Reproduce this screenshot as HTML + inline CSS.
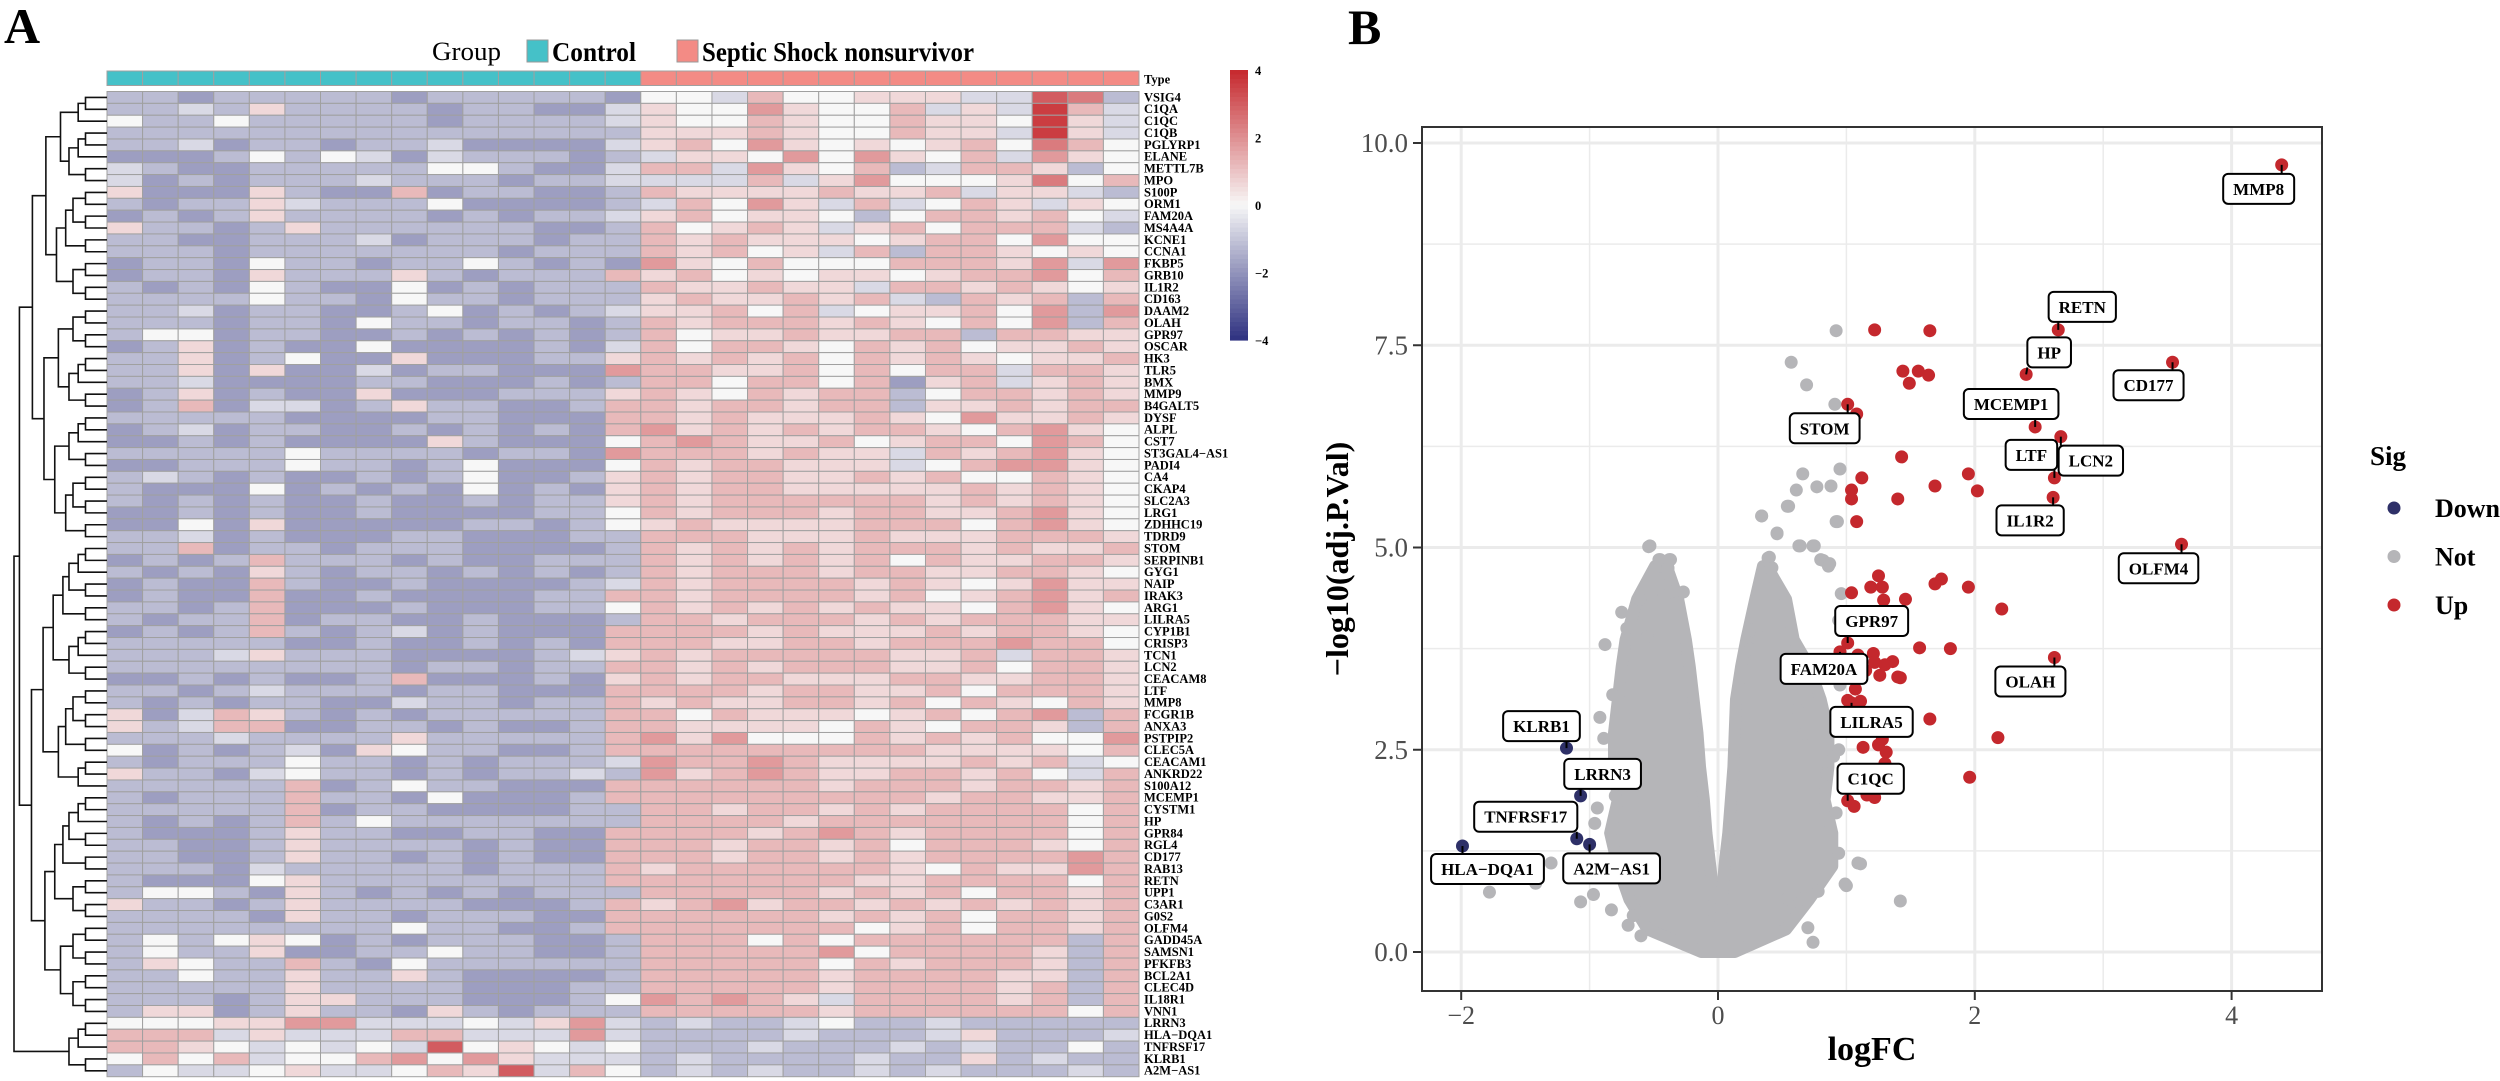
<!DOCTYPE html>
<html><head><meta charset="utf-8"><style>
html,body{margin:0;padding:0;background:#fff;}
svg{display:block;font-family:"Liberation Serif",serif;}
</style></head><body>
<svg id="fig" width="2500" height="1081" viewBox="0 0 2500 1081" xmlns="http://www.w3.org/2000/svg">
<text x="4" y="43" font-size="50" font-weight="bold">A</text>
<text x="1348" y="44" font-size="50" font-weight="bold">B</text>
<g id="heat"></g>
<g id="volc"></g>
</svg>
<script>
// ---------------- Heatmap data ----------------
const genes = ["VSIG4","C1QA","C1QC","C1QB","PGLYRP1","ELANE","METTL7B","MPO","S100P","ORM1","FAM20A","MS4A4A","KCNE1","CCNA1","FKBP5","GRB10","IL1R2","CD163","DAAM2","OLAH","GPR97","OSCAR","HK3","TLR5","BMX","MMP9","B4GALT5","DYSF","ALPL","CST7","ST3GAL4\u2212AS1","PADI4","CA4","CKAP4","SLC2A3","LRG1","ZDHHC19","TDRD9","STOM","SERPINB1","GYG1","NAIP","IRAK3","ARG1","LILRA5","CYP1B1","CRISP3","TCN1","LCN2","CEACAM8","LTF","MMP8","FCGR1B","ANXA3","PSTPIP2","CLEC5A","CEACAM1","ANKRD22","S100A12","MCEMP1","CYSTM1","HP","GPR84","RGL4","CD177","RAB13","RETN","UPP1","C3AR1","G0S2","OLFM4","GADD45A","SAMSN1","PFKFB3","BCL2A1","CLEC4D","IL18R1","VNN1","LRRN3","HLA\u2212DQA1","TNFRSF17","KLRB1","A2M\u2212AS1"];
const groups = ["Control","Control","Control","Control","Control","Control","Control","Control","Control","Control","Control","Control","Control","Control","Control","Septic","Septic","Septic","Septic","Septic","Septic","Septic","Septic","Septic","Septic","Septic","Septic","Septic","Septic"];
const levelChars = "0123456789AB";
const colorbarTicks = [4,2,0,-2,-4];
const controlRows = ["332333332333332","334363333233224","533533333233334","333333333333333","334233233422224","222353542433323","432233333553224","423233343332334","622263227233223","323364333522223","232363333232334","633236333333223","332233342333233","333233333332333","233253323353232","233263336323337","323253225232333","333353325332333","334233223523234","333233253323323","355233223232323","236232252222324","336235226222336","336262242332228","334222233222323","236232262223336","237244236332237","333332222332227","234233223232327","223232222632225","333335333323328","223335332352225","343232232352236","322252323252326","323232232232336","223232232222335","225262222233235","334232223322233","337233233322223","232373332322333","323263233232323","232273223222234","232272232222337","332372223222335","323372332232223","232373234232227","333332232232327","333463332222346","333333332332337","223232237222326","332343332332227","323233224332337","624763232333337","634772233232237","333433336333337","523234265332237","323335332323334","633245332323343","333337235332227","323337332522237","333337233222233","323237353333333","322236332233227","332236333323227","332236332323227","333243333323337","322256333333337","355326323232333","633236333322237","333326332333227","333333335332237","353565232333223","353362233533223","365337325333333","335336336322223","333336333322233","333236633322235","366236332632333","555668844454684","777464447744484","776545454A56545","575745578586444","35445644576A475"];
const septicRows = ["55475566644A93","65586557464B74","65576557665B64","66676557664B64","67586565675975","46658586574865","77486573477635","44474685556957","76666766746643","47586474576465","67566535776754","75676467577743","76766656775855","76756473776565","86575557776848","67565665677857","76676647767656","67667674376737","66757456675838","76777676575837","75667667737766","75776576756676","76767576765667","77667575774776","77577572674676","76576773577676","76776773667677","76766676586676","86767677657865","78766756775875","77767664767865","76776664578865","76776676755765","76776666676765","76777777676765","76777677667865","67666677757865","77766676667776","76767677767667","76767675766776","76777677667765","76777767656866","76777767567867","76767676657865","77677767677766","77767666767765","77667767778775","76777776674776","76767776675776","76776667766776","77767766757776","67667767576576","75766656757837","76666576577637","86855576767558","77777777666657","87787666676745","86787667767547","77777677767767","77777777677667","77677676777757","77776777777757","77767876777757","77677675777657","77677676777787","67777776576687","77777766777757","77777676757767","67867767676767","77777676757767","77777756757767","77757577777737","77777857777637","77777576777637","77777677776637","77777677776737","87876477776737","77777677777757","34334533433333","33334333463334","33343334343353","34333343363433","34343343433343"];

// ---------------- Volcano data ----------------
const upFC = [4.39,2.65,2.40,3.54,2.47,2.67,2.62,2.61,1.01,3.61,1.01,0.95,2.62,1.04,1.01,1.08,1.22,1.65,1.44,1.56,1.64,1.49,1.43,1.12,1.04,1.04,1.40,1.69,1.95,2.02,1.08,1.25,1.19,1.28,1.04,1.74,1.69,1.95,1.46,1.29,2.21,1.57,1.81,1.09,1.21,1.22,1.36,1.15,1.26,1.42,1.07,1.01,1.11,1.65,1.47,2.18,1.13,1.25,1.31,1.30,1.28,1.96,1.16,1.22,1.06,1.10,1.14,1.30,1.40,1.02];
const upV  = [9.73,7.69,7.14,7.29,6.49,6.37,5.86,5.62,6.77,5.04,3.82,3.71,3.64,3.08,1.87,6.65,7.69,7.68,7.18,7.18,7.13,7.03,6.12,5.86,5.71,5.60,5.60,5.76,5.91,5.70,5.32,4.65,4.51,4.51,4.44,4.61,4.55,4.51,4.36,4.35,4.24,3.76,3.75,3.67,3.69,3.58,3.59,3.48,3.42,3.39,3.25,3.11,3.10,2.88,2.74,2.65,2.53,2.56,2.47,2.33,2.63,2.16,1.94,1.91,1.80,2.05,2.75,3.55,3.40,2.98];
const downFC = [-1.18,-1.07,-1.10,-1.00,-1.99];
const downV  = [2.52,1.93,1.40,1.33,1.31];
const notFC = [0.92,0.57,0.69,0.91,0.66,0.95,0.61,0.77,0.88,0.55,0.34,0.46,0.93,-0.53,0.64,0.75,-0.45,-0.37,-0.39,0.40,0.42,0.82,0.86,-0.54,-0.46,-0.38,-0.39,0.34,0.54,0.92,0.46,0.63,0.74,0.39,0.41,0.80,0.87,-0.37,-0.27,-0.61,-0.52,-0.88,-0.82,-0.89,-0.96,-0.94,-1.07,-0.97,-1.30,-1.40,-1.42,-1.78,-0.80,-0.70,-0.83,0.94,0.96,1.09,0.99,1.42,0.94,0.78,0.86,0.92,0.90,0.94,0.66,0.54,0.26,0.31,0.25,1.11,1.00,-0.60,-0.66,-0.86,-0.92,0.70,0.74,0.83,0.62,-0.75,-0.71,0.95,0.85,-0.55,0.67];
const notV  = [7.68,7.29,7.01,6.77,5.91,5.97,5.71,5.75,5.76,5.51,5.39,5.18,5.32,5.02,5.02,5.02,4.85,4.85,4.75,4.88,4.75,4.84,4.77,5.01,4.85,4.85,4.74,5.39,5.51,5.32,5.17,5.02,5.02,4.87,4.74,4.85,4.80,4.45,4.45,4.36,4.43,3.80,3.18,2.64,1.59,1.78,0.62,0.71,1.10,1.06,0.85,0.74,1.93,0.33,0.52,4.10,4.43,1.10,0.84,0.63,1.22,0.75,1.49,1.72,2.42,2.50,0.66,0.66,3.98,4.02,3.74,1.09,0.82,0.20,0.45,2.10,2.90,0.30,0.12,3.40,3.00,4.20,4.00,3.30,2.20,3.90,2.70];
const lobeV      = [0.00,0.28,0.65,1.06,1.47,1.88,2.29,2.71,3.12,3.53,3.86,4.36,4.77];
const leftOuter  = [-0.13,-0.55,-0.69,-0.78,-0.84,-0.78,-0.81,-0.81,-0.78,-0.75,-0.72,-0.63,-0.49];
const leftInner  = [0.00,-0.02,-0.03,-0.06,-0.09,-0.11,-0.14,-0.16,-0.19,-0.22,-0.25,-0.31,-0.40];
const rightInner = [0.00,0.02,0.03,0.05,0.08,0.10,0.12,0.13,0.14,0.18,0.22,0.29,0.35];
const rightOuter = [0.13,0.53,0.71,0.89,0.89,0.83,0.86,0.86,0.80,0.71,0.59,0.53,0.38];
const labelNames = ["MMP8","RETN","HP","CD177","MCEMP1","LCN2","LTF","IL1R2","STOM","OLFM4","GPR97","FAM20A","OLAH","LILRA5","C1QC","KLRB1","LRRN3","TNFRSF17","A2M\u2212AS1","HLA\u2212DQA1"];
const labelFC = [4.39,2.65,2.40,3.54,2.47,2.67,2.62,2.61,1.01,3.61,1.01,0.95,2.62,1.04,1.01,-1.18,-1.07,-1.10,-1.00,-1.99];
const labelV  = [9.73,7.69,7.14,7.29,6.49,6.37,5.86,5.62,6.77,5.04,3.82,3.71,3.64,3.08,1.87,2.52,1.93,1.40,1.33,1.31];
const xTicks = [-2,0,2,4];
const yTicks = [0,2.5,5,7.5,10];
const legendItems = ["Down","Not","Up"];

const NS = "http://www.w3.org/2000/svg";
function mk(tag, attrs, parent){ const e=document.createElementNS(NS,tag); for(const k in attrs) e.setAttribute(k,attrs[k]); parent.appendChild(e); return e; }

// ---------- heatmap ----------
const heat = document.getElementById('heat');
const HX0=107, HX1=1139, HY0=91.5, RH=11.87, TY0=71, TY1=85.5;
const CW=(HX1-HX0)/groups.length;
function lvl(ch){ const i=levelChars.indexOf(ch); return ((i<0?5:i)-5)*0.6; }
function colorOf(v){
  const t=Math.max(-4,Math.min(4,v))/4;
  const w=[247,247,247], lo=[46,49,128], hi=[198,40,45];
  const c=t<0?lo:hi, a=Math.abs(t);
  return 'rgb('+w.map((x,i)=>Math.round(x+(c[i]-x)*a)).join(',')+')';
}
// type bar
groups.forEach((g,j)=>{
  const r=mk('rect',{x:HX0+j*CW,y:TY0,width:CW,height:TY1-TY0,fill:g==='Control'?'#45c1c8':'#f38b85',stroke:'#a0a0a0','stroke-width':1},heat);
  
  
});
const tl=mk('text',{x:HX1+5,y:TY1-2,'font-size':12.5,'font-weight':'bold'},heat); tl.textContent='Type';
 
genes.forEach((g,i)=>{
  const y=HY0+i*RH;
  for(let j=0;j<groups.length;j++){
    let ch;
    if(j<15){ ch=(controlRows[i]||'')[j]||'3'; } else { ch=(septicRows[i]||'')[j-15]||'7'; }
    const r=mk('rect',{x:HX0+j*CW,y:y,width:CW,height:RH,fill:colorOf(lvl(ch)),stroke:'#a0a0a0','stroke-width':1},heat);
    
    
  }
  const t=mk('text',{x:HX1+5,y:y+RH-2,'font-size':12.5,'font-weight':'bold'},heat);
  t.textContent=g;
  
  
});
// dendrogram
const dend=mk('g',{stroke:'#111','stroke-width':1.6,fill:'none'},heat);
 
function build(a,b){ // returns {y,x}
  if(a===b) return {y:HY0+(a+0.5)*RH,x:HX0};
  const n=b-a+1;
  let m = (a===0&&b===genes.length-1)? genes.length-6 : Math.floor((a+b)/2 + ((a*7+b*3)%3-1)*Math.min(1,Math.floor(n/6)));
  if(m<a) m=a; if(m>=b) m=b-1;
  const L=build(a,m), R=build(m+1,b);
  let x = (a===0&&b===genes.length-1)? 14 : HX0-(9+12.5*Math.log2(n));
  x=Math.min(x,Math.min(L.x,R.x)-5);
  mk('path',{d:`M${L.x},${L.y}H${x}V${R.y}H${R.x}`},dend);
  return {y:(L.y+R.y)/2,x:x};
}
build(0,genes.length-1);
// group legend
function txt(parent,x,y,s,size,weight,name,extra){ const t=mk('text',Object.assign({x:x,y:y,'font-size':size,'font-weight':weight||'normal'},extra||{}),parent); t.textContent=s;   return t;}
txt(heat,432,60,'Group',26,'normal','group-legend-title',{textLength:69,lengthAdjust:'spacingAndGlyphs'});
let sw=mk('rect',{x:527,y:40,width:21,height:22,fill:'#45c1c8',stroke:'#999'},heat);  
txt(heat,552,61,'Control',27,'bold','legend-label-control',{textLength:84,lengthAdjust:'spacingAndGlyphs'});
sw=mk('rect',{x:677,y:40,width:21,height:22,fill:'#f38b85',stroke:'#999'},heat);  
txt(heat,702,61,'Septic Shock nonsurvivor',27,'bold','legend-label-septic',{textLength:272,lengthAdjust:'spacingAndGlyphs'});
// colorbar
const CBX=1230, CBY0=70, CBY1=340;
for(let k=0;k<60;k++){
  const v=4-8*(k+0.5)/60;
  const r=mk('rect',{x:CBX,y:CBY0+k*(CBY1-CBY0)/60,width:18,height:(CBY1-CBY0)/60+0.6,fill:colorOf(v)},heat);
   
}
colorbarTicks.forEach(v=>{
  const y=CBY0+(4-v)/8*(CBY1-CBY0);
  txt(heat,CBX+25,y+5,v<0?'\u2212'+(-v):String(v),12.5,'bold','colorbar-tick-label');
});

// ---------- volcano ----------
const volc=document.getElementById('volc');
const PL=1422, PR=2322, PT=127, PB=991;
const sx=fc=>1718+128.4*fc, sy=v=>952-80.9*v;
mk('rect',{x:PL,y:PT,width:PR-PL,height:PB-PT,fill:'#fff'},volc);
const grid=mk('g',{stroke:'#ebebeb'},volc);  
[-1,1,3].forEach(v=>mk('line',{x1:sx(v),x2:sx(v),y1:PT,y2:PB,'stroke-width':1.5},grid));
[1.25,3.75,6.25,8.75].forEach(v=>mk('line',{x1:PL,x2:PR,y1:sy(v),y2:sy(v),'stroke-width':1.5},grid));
xTicks.forEach(v=>mk('line',{x1:sx(v),x2:sx(v),y1:PT,y2:PB,'stroke-width':3},grid));
yTicks.forEach(v=>mk('line',{x1:PL,x2:PR,y1:sy(v),y2:sy(v),'stroke-width':3},grid));
// gray lobes
function lobe(outer,inner,name){
  let d='';
  lobeV.forEach((v,i)=>{ d+=(i?'L':'M')+sx(outer[i])+','+sy(v); });
  for(let i=lobeV.length-1;i>=0;i--) d+='L'+sx(inner[i])+','+sy(lobeV[i]);
  const p=mk('path',{d:d+'Z',fill:'#b5b5b8',stroke:'#b5b5b8','stroke-width':12,'stroke-linejoin':'round'},volc);
   
}
lobe(leftOuter,leftInner,'not-sig-cloud-left');
lobe(rightOuter,rightInner,'not-sig-cloud-right');
notFC.forEach((f,i)=>{ const c=mk('circle',{cx:sx(f),cy:sy(notV[i]),r:6.5,fill:'#b5b5b8'},volc);   });
upFC.forEach((f,i)=>{ const c=mk('circle',{cx:sx(f),cy:sy(upV[i]),r:6.5,fill:'#c4282d'},volc);   });
downFC.forEach((f,i)=>{ const c=mk('circle',{cx:sx(f),cy:sy(downV[i]),r:6.5,fill:'#2e3068'},volc);   });
// labels (offsets in px relative to the point, layout only)
const labelDX=[-23,24,23,-24,-24,30,-23,-23,-23,-23,24,-16,-24,20,23,-25,22,-51,22,25];
const labelDY=[24,-23,-22,23,-23,24,-23,23,24,24,-22,17,24,19,-22,-22,-22,-22,24,23];
labelNames.forEach((nm,i)=>{
  const px=sx(labelFC[i]), py=sy(labelV[i]);
  const cx=px+labelDX[i], cy=py+labelDY[i];
  const g=mk('g',{},volc);  
  const t=mk('text',{x:cx,y:cy+6,'font-size':17,'font-weight':'bold','text-anchor':'middle'},g); t.textContent=nm;
  const w=t.getComputedTextLength()+20, h=30;
  const bx=cx-w/2, by=cy-h/2;
  // segment from point to box edge
  const ex=Math.max(bx,Math.min(bx+w,px)), ey=Math.max(by,Math.min(by+h,py));
  const ln=mk('line',{x1:px,y1:py,x2:ex,y2:ey,stroke:'#000','stroke-width':2},g);
  g.insertBefore(ln,t);
  const r=mk('rect',{x:bx,y:by,width:w,height:h,rx:5,fill:'#fff',stroke:'#000','stroke-width':2},g);
  g.insertBefore(r,t);
});
// border & axes
const bd=mk('rect',{x:PL,y:PT,width:PR-PL,height:PB-PT,fill:'none',stroke:'#333','stroke-width':2},volc);
 
xTicks.forEach(v=>{
  mk('line',{x1:sx(v),x2:sx(v),y1:PB,y2:PB+9,stroke:'#333','stroke-width':2},volc);
  txt(volc,sx(v),PB+33,v<0?'\u2212'+(-v):String(v),26,'normal','x-tick-label',{'text-anchor':'middle',fill:'#4d4d4d'});
});
yTicks.forEach(v=>{
  mk('line',{x1:PL-9,x2:PL,y1:sy(v),y2:sy(v),stroke:'#333','stroke-width':2},volc);
  txt(volc,PL-14,sy(v)+9,v.toFixed(1),27,'normal','y-tick-label',{'text-anchor':'end',fill:'#4d4d4d'});
});
txt(volc,(PL+PR)/2,1060,'logFC',34,'bold','x-axis-title',{'text-anchor':'middle'});
txt(volc,0,0,'\u2212log10(adj.P.Val)',32,'bold','y-axis-title',{'text-anchor':'middle',transform:'translate(1348,'+((PT+PB)/2)+') rotate(-90)'});
// legend
txt(volc,2370,465,'Sig',27,'bold','legend-title');
const legCol=['#2e3068','#b5b5b8','#c4282d'];
legendItems.forEach((s,i)=>{
  const c=mk('circle',{cx:2394,cy:508+i*48.5,r:6.5,fill:legCol[i]},volc);
   
  txt(volc,2435,517+i*48.5,s,26,'bold','legend-entry-'+s.toLowerCase());
});
</script>
</body></html>
